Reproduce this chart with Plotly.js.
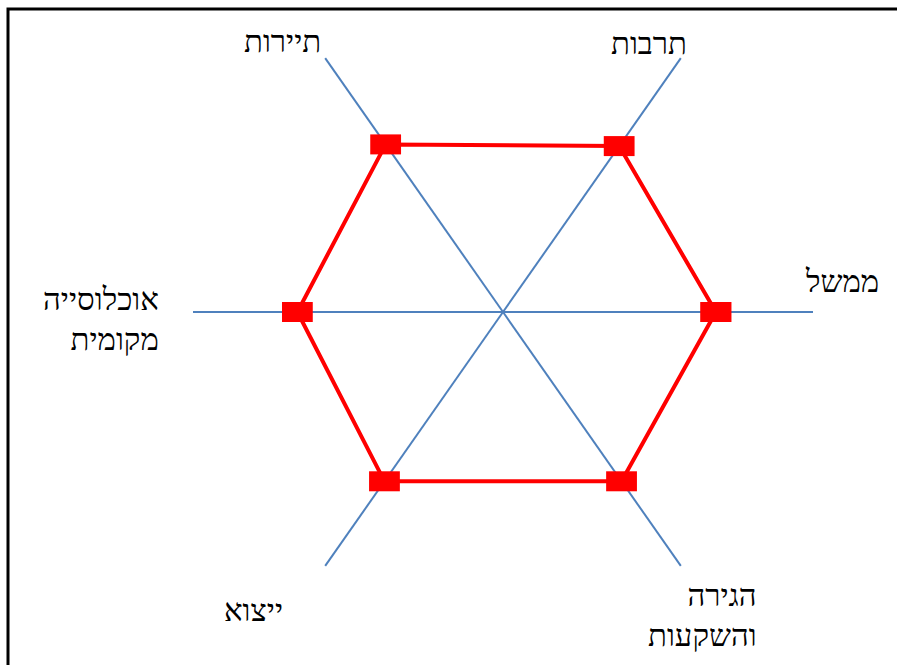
<!DOCTYPE html>
<html>
<head>
<meta charset="utf-8">
<script src="https://cdn.plot.ly/plotly-3.0.1.min.js"></script>
<style>
  html, body { margin: 0; padding: 0; background: #fff; }
  #chart { width: 897px; height: 665px; }
</style>
</head>
<body>
<div id="chart"></div>
<script>
// categories, going round counter-clockwise from the right
let categories = ['ממשל', 'תרבות', 'תיירות', 'אוכלוסייה<br>מקומית', 'ייצוא', 'הגירה<br>והשקעות'];
let angles = [0, 55, 125, 180, 235, 305];
let values = [10.3, 9.8, 9.9, 9.95, 10, 10];

// close the hexagon
let rClosed = values.concat([values[0]]);
let thetaClosed = angles.concat([angles[0]]);

let trace01 = {
    type: 'scatterpolar',
    r: rClosed,
    theta: thetaClosed,
    mode: 'lines+markers',
    line: {color: '#ff0000', width: 4},
    marker: {
        symbol: 'line-ew',
        size: 22,
        color: '#ff0000',
        line: {color: '#ff0000', width: 20}
    },
    hoverinfo: 'skip'
};

let data01 = [trace01];

// label placement in pixels (centre of each text block)
let W = 897, H = 665;
let labelPos = [
    {x: 842, y: 281, xanchor: 'center', align: 'center'},
    {x: 649, y: 44, xanchor: 'center', align: 'center'},
    {x: 282, y: 42, xanchor: 'center', align: 'center'},
    {x: 161, y: 319, xanchor: 'right', align: 'right'},
    {x: 253, y: 610, xanchor: 'center', align: 'center'},
    {x: 759, y: 615, xanchor: 'right', align: 'right'}
];

let annotations = categories.map((name, i) => ({
    text: name,
    xref: 'paper', yref: 'paper',
    x: labelPos[i].x / W,
    y: 1 - labelPos[i].y / H,
    xanchor: labelPos[i].xanchor,
    yanchor: 'middle',
    align: labelPos[i].align,
    showarrow: false,
    font: {family: 'Liberation Serif, DejaVu Serif, serif', size: 31, color: '#000'}
}));

let layout01 = {
    width: W,
    height: H,
    margin: {l: 0, r: 0, t: 0, b: 0},
    paper_bgcolor: '#fff',
    showlegend: false,
    polar: {
        domain: {x: [193 / W, 813 / W], y: [1 - 622 / H, 1 - 2 / H]},
        bgcolor: 'rgba(0,0,0,0)',
        radialaxis: {
            range: [0, 15],
            showgrid: false,
            showline: false,
            showticklabels: false,
            ticks: ''
        },
        angularaxis: {
            direction: 'counterclockwise',
            rotation: 0,
            tickmode: 'array',
            tickvals: angles,
            showticklabels: false,
            ticks: '',
            showline: false,
            gridcolor: '#4f81bd',
            gridwidth: 2
        }
    },
    annotations: annotations,
    shapes: [{
        type: 'rect',
        xref: 'paper', yref: 'paper',
        x0: 8 / W, x1: 1.02,
        y0: -0.02, y1: 1 - 9 / H,
        line: {color: '#000', width: 3}
    }]
};

Plotly.newPlot('chart', data01, layout01, {displayModeBar: false, staticPlot: true});
</script>
</body>
</html>
